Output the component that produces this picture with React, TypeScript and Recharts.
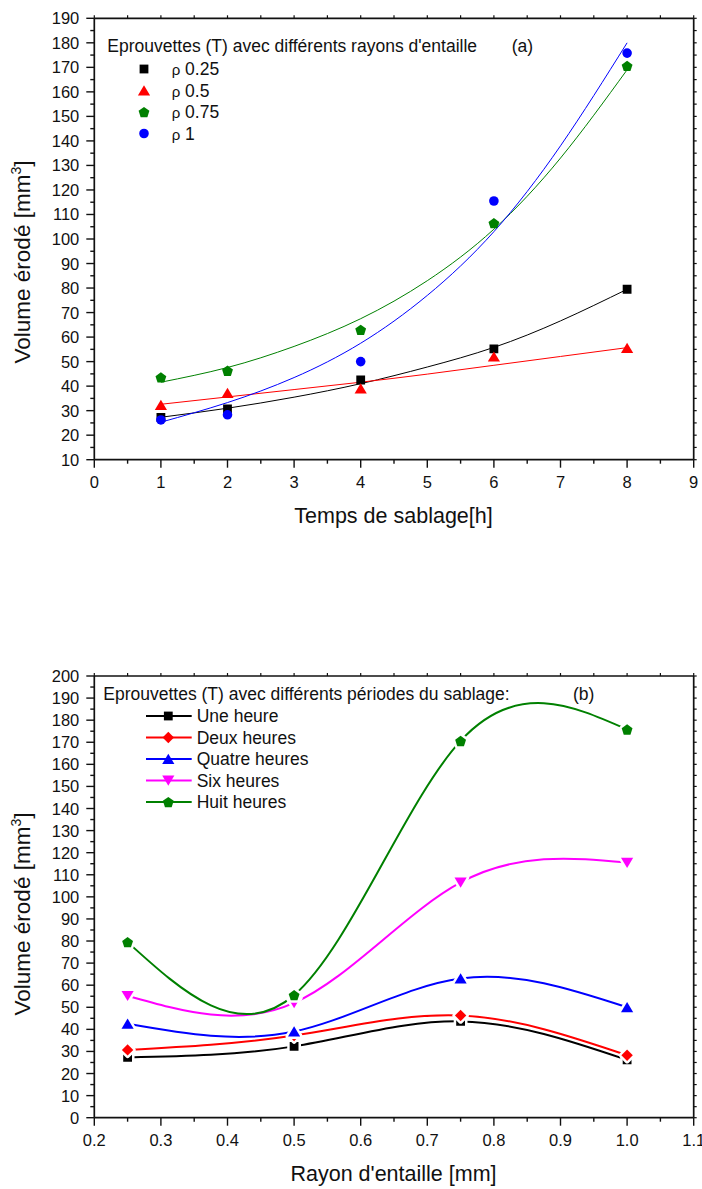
import { ComposedChart, LineChart, Line, Scatter, XAxis, YAxis } from 'recharts'

const FONT = '"Liberation Sans", Arial, Helvetica, sans-serif'
const INK = '#111'

// (a) measured erosion volume per blasting time, one array per notch radius
const hours = [1, 2, 4, 6, 8]
const rho025 = [27.3, 30.7, 42.5, 55.2, 79.5]
const rho05 = [32.3, 37.2, 39.0, 52.0, 55.5]
const rho075 = [43.6, 46.3, 63.0, 106.5, 170.6]
const rho1 = [26.2, 28.3, 50.0, 115.5, 175.8]

// (a) fitted curves
const fitHours = [1, 2, 3, 4, 5, 6, 7, 8]
const fit025 = [27.3, 31.0, 35.5, 41.0, 47.8, 55.8, 66.6, 79.5]
const fit05 = [32.6, 35.6, 38.6, 41.6, 44.9, 48.5, 52.1, 55.7]
const fit075 = [41.6, 47.6, 56.2, 67.5, 83.0, 104.0, 133.0, 169.0]
const fit1 = [25.3, 33.3, 43.5, 57.5, 77.0, 103.0, 138.0, 180.0]

// (b) same measurements, grouped by blasting period
const radii = [0.25, 0.5, 0.75, 1.0]
const periods = ['Une heure', 'Deux heures', 'Quatre heures', 'Six heures', 'Huit heures']

const hourTicks = [0, 1, 2, 3, 4, 5, 6, 7, 8, 9]
const hourMinor = [0.5, 1.5, 2.5, 3.5, 4.5, 5.5, 6.5, 7.5, 8.5]
const volTicksA = [10, 20, 30, 40, 50, 60, 70, 80, 90, 100, 110, 120, 130, 140, 150, 160, 170, 180, 190]
const volMinorA = [15, 25, 35, 45, 55, 65, 75, 85, 95, 105, 115, 125, 135, 145, 155, 165, 175, 185]
const radiusTicks = [0.2, 0.3, 0.4, 0.5, 0.6, 0.7, 0.8, 0.9, 1.0, 1.1]
const radiusMinor = [0.25, 0.35, 0.45, 0.55, 0.65, 0.75, 0.85, 0.95, 1.05]
const volTicksB = [0, 10, 20, 30, 40, 50, 60, 70, 80, 90, 100, 110, 120, 130, 140, 150, 160, 170, 180, 190, 200]
const volMinorB = [5, 15, 25, 35, 45, 55, 65, 75, 85, 95, 105, 115, 125, 135, 145, 155, 165, 175, 185, 195]

type Kind = 'square' | 'circle' | 'triangle' | 'down' | 'diamond' | 'pentagon'

const rhoSeries = [
  { label: '0.25', pts: rho025, fit: fit025, color: '#000000', kind: 'square' as Kind },
  { label: '0.5', pts: rho05, fit: fit05, color: '#ff0000', kind: 'triangle' as Kind },
  { label: '0.75', pts: rho075, fit: fit075, color: '#008000', kind: 'pentagon' as Kind },
  { label: '1', pts: rho1, fit: fit1, color: '#0000ff', kind: 'circle' as Kind },
]

const periodStyles = [
  { color: '#000000', kind: 'square' as Kind },
  { color: '#ff0000', kind: 'diamond' as Kind },
  { color: '#0000ff', kind: 'triangle' as Kind },
  { color: '#ff00ff', kind: 'down' as Kind },
  { color: '#008000', kind: 'pentagon' as Kind },
]

const rowsB = radii.map((r, i) => {
  const row: Record<string, number> = { r }
  periods.forEach((_, j) => {
    row['p' + j] = rhoSeries[i].pts[j]
  })
  return row
})

function markerPath(kind: Kind, cx: number, cy: number) {
  switch (kind) {
    case 'square': {
      const h = 4.4
      return `M${cx - h},${cy - h}H${cx + h}V${cy + h}H${cx - h}Z`
    }
    case 'circle': {
      const r = 4.8
      return `M${cx - r},${cy}a${r},${r} 0 1,0 ${2 * r},0a${r},${r} 0 1,0 ${-2 * r},0Z`
    }
    case 'triangle':
      return `M${cx},${cy - 5.3}L${cx + 6.1},${cy + 4.9}L${cx - 6.1},${cy + 4.9}Z`
    case 'down':
      return `M${cx},${cy + 5.3}L${cx + 6.1},${cy - 4.9}L${cx - 6.1},${cy - 4.9}Z`
    case 'diamond':
      return `M${cx},${cy - 5.7}L${cx + 5.7},${cy}L${cx},${cy + 5.7}L${cx - 5.7},${cy}Z`
    case 'pentagon': {
      const r = 5.7
      const pts = [0, 1, 2, 3, 4].map((k) => {
        const a = (-90 + 72 * k) * (Math.PI / 180)
        return `${cx + r * Math.cos(a)},${cy + 0.6 + r * Math.sin(a)}`
      })
      return 'M' + pts.join('L') + 'Z'
    }
  }
}

function Marker({ kind, cx, cy, color, halo }: { kind: Kind; cx: number; cy: number; color: string; halo?: boolean }) {
  if (cx == null || cy == null) return null
  const d = markerPath(kind, cx, cy)
  return (
    <g>
      {halo && <path d={d} fill="#fff" stroke="#fff" strokeWidth={5} strokeLinejoin="round" />}
      <path d={d} fill={color} />
    </g>
  )
}

const near = (list: number[], v: number) => list.some((m) => Math.abs(m - v) < 1e-6)

function makeTick(side: 'bottom' | 'left' | 'top' | 'right', majors: number[], fmt: (v: number) => string) {
  return (props: any) => {
    const { x, y, payload } = props
    const v = payload.value
    const major = near(majors, v)
    const txt = { fontFamily: FONT, fontSize: 16.5, fill: INK }
    if (side === 'bottom') {
      const len = major ? 8 : 4
      return (
        <g>
          <line x1={x} y1={y} x2={x} y2={y + len} stroke={INK} strokeWidth={1.4} />
          {major && <text x={x} y={y + 28} textAnchor="middle" style={txt}>{fmt(v)}</text>}
        </g>
      )
    }
    if (side === 'left') {
      const len = major ? 8 : 4
      return (
        <g>
          <line x1={x - len} y1={y} x2={x} y2={y} stroke={INK} strokeWidth={1.4} />
          {major && <text x={x - 15} y={y + 6} textAnchor="end" style={txt}>{fmt(v)}</text>}
        </g>
      )
    }
    if (side === 'top') {
      return <line x1={x} y1={y - 3} x2={x} y2={y} stroke={INK} strokeWidth={1.2} />
    }
    return <line x1={x} y1={y} x2={x + 3} y2={y} stroke={INK} strokeWidth={1.2} />
  }
}

const axisLine = { stroke: INK, strokeWidth: 1.7 }
const intFmt = (v: number) => String(v)
const decFmt = (v: number) => v.toFixed(1)

function ChartA() {
  const xAll = [...hourTicks, ...hourMinor].sort((a, b) => a - b)
  const yAll = [...volTicksA, ...volMinorA].sort((a, b) => a - b)
  return (
    <ComposedChart width={702} height={545} margin={{ top: 8.3, right: 0, bottom: 0, left: 0 }}>
      <XAxis xAxisId="b" type="number" dataKey="x" domain={[0, 9]} allowDataOverflow ticks={xAll} interval={0}
        tickSize={0} tickMargin={0} tickLine={false} axisLine={axisLine} height={85.3}
        tick={makeTick('bottom', hourTicks, intFmt)} />
      <XAxis xAxisId="t" orientation="top" type="number" dataKey="x" domain={[0, 9]} allowDataOverflow ticks={xAll}
        interval={0} tickSize={0} tickMargin={0} tickLine={false} axisLine={axisLine} height={10}
        tick={makeTick('top', hourTicks, intFmt)} />
      <YAxis yAxisId="l" type="number" dataKey="y" domain={[10, 190]} allowDataOverflow ticks={yAll} interval={0}
        tickSize={0} tickMargin={0} tickLine={false} axisLine={axisLine} width={94.3}
        tick={makeTick('left', volTicksA, intFmt)} />
      <YAxis yAxisId="r" orientation="right" type="number" domain={[10, 190]} allowDataOverflow ticks={yAll}
        interval={0} tickSize={0} tickMargin={0} tickLine={false} axisLine={axisLine} width={8.3}
        tick={makeTick('right', volTicksA, intFmt)} />
      {rhoSeries.map((s) => (
        <Line key={'fit' + s.label} xAxisId="b" yAxisId="l" data={fitHours.map((x, i) => ({ x, y: s.fit[i] }))}
          dataKey="y" type="natural" stroke={s.color} strokeWidth={1} dot={false} activeDot={false}
          isAnimationActive={false} />
      ))}
      {rhoSeries.map((s) => (
        <Scatter key={'pts' + s.label} xAxisId="b" yAxisId="l" data={hours.map((x, i) => ({ x, y: s.pts[i] }))}
          dataKey="y" isAnimationActive={false}
          shape={(p: any) => <Marker kind={s.kind} cx={p.cx} cy={p.cy} color={s.color} />} />
      ))}
    </ComposedChart>
  )
}

function ChartB() {
  const xAll = [...radiusTicks, ...radiusMinor].sort((a, b) => a - b)
  const yAll = [...volTicksB, ...volMinorB].sort((a, b) => a - b)
  return (
    <LineChart width={702} height={629} data={rowsB} margin={{ top: 106, right: 0, bottom: 0, left: 0 }}>
      <XAxis xAxisId="b" type="number" dataKey="r" domain={[0.2, 1.1]} allowDataOverflow ticks={xAll} interval={0}
        tickSize={0} tickMargin={0} tickLine={false} axisLine={axisLine} height={71.3}
        tick={makeTick('bottom', radiusTicks, decFmt)} />
      <XAxis xAxisId="t" orientation="top" type="number" dataKey="r" domain={[0.2, 1.1]} allowDataOverflow
        ticks={xAll} interval={0} tickSize={0} tickMargin={0} tickLine={false} axisLine={axisLine} height={10}
        tick={makeTick('top', radiusTicks, decFmt)} />
      <YAxis yAxisId="l" type="number" domain={[0, 200]} allowDataOverflow ticks={yAll} interval={0}
        tickSize={0} tickMargin={0} tickLine={false} axisLine={axisLine} width={94.3}
        tick={makeTick('left', volTicksB, intFmt)} />
      <YAxis yAxisId="r" orientation="right" type="number" domain={[0, 200]} allowDataOverflow ticks={yAll}
        interval={0} tickSize={0} tickMargin={0} tickLine={false} axisLine={axisLine} width={8.3}
        tick={makeTick('right', volTicksB, intFmt)} />
      {periods.map((name, j) => {
        const st = periodStyles[j]
        return (
          <Line key={name} name={name} xAxisId="b" yAxisId="l" dataKey={'p' + j} type="natural" stroke={st.color}
            strokeWidth={2} activeDot={false} isAnimationActive={false}
            dot={(p: any) => <Marker key={p.index} kind={st.kind} cx={p.cx} cy={p.cy} color={st.color} halo />} />
        )
      })}
    </LineChart>
  )
}

function Overlay() {
  const t = { fontFamily: FONT, fill: INK }
  const rowsA = [69, 90.5, 112, 133.5]
  const rowsLegB = [716, 737.5, 759, 780.5, 802]
  return (
    <svg width={702} height={1189} style={{ position: 'absolute', left: 0, top: 0, pointerEvents: 'none' }}>
      {/* (a) */}
      <text x={107.3} y={52.3} style={{ ...t, fontSize: 17.5 }}>Eprouvettes (T) avec différents rayons d'entaille</text>
      <text x={511.7} y={52.3} style={{ ...t, fontSize: 17.5 }}>(a)</text>
      {rhoSeries.map((s, i) => (
        <g key={s.label}>
          <Marker kind={s.kind} cx={144} cy={rowsA[i]} color={s.color} />
          <text x={171.7} y={rowsA[i] + 6} style={{ ...t, fontSize: 17.5 }}>
            <tspan style={{ fontSize: 15 }}>ρ</tspan> {s.label}
          </text>
        </g>
      ))}
      <text x={393.5} y={523} textAnchor="middle" style={{ ...t, fontSize: 21.5 }}>Temps de sablage[h]</text>
      <text transform="translate(30,262) rotate(-90)" textAnchor="middle" style={{ ...t, fontSize: 22.5 }}>
        Volume érodé [mm<tspan dy={-9} style={{ fontSize: 14 }}>3</tspan><tspan dy={9}>]</tspan>
      </text>

      {/* (b) */}
      <text x={103.3} y={700} style={{ ...t, fontSize: 17.5 }}>Eprouvettes (T) avec différents périodes du sablage:</text>
      <text x={573} y={700} style={{ ...t, fontSize: 17.5 }}>(b)</text>
      {periods.map((name, j) => {
        const st = periodStyles[j]
        const y = rowsLegB[j]
        return (
          <g key={name}>
            <line x1={146} y1={y} x2={191.7} y2={y} stroke={st.color} strokeWidth={2} />
            <Marker kind={st.kind} cx={168.3} cy={y} color={st.color} />
            <text x={196.7} y={y + 6} style={{ ...t, fontSize: 17.5 }}>{name}</text>
          </g>
        )
      })}
      <text x={393.5} y={1180.5} textAnchor="middle" style={{ ...t, fontSize: 21.5 }}>Rayon d'entaille [mm]</text>
      <text transform="translate(30,914) rotate(-90)" textAnchor="middle" style={{ ...t, fontSize: 22.5 }}>
        Volume érodé [mm<tspan dy={-9} style={{ fontSize: 14 }}>3</tspan><tspan dy={9}>]</tspan>
      </text>
    </svg>
  )
}

export default function App() {
  return (
    <div style={{ position: 'absolute', left: 0, top: 0, width: 702, height: 1189, background: '#fff' }}>
      <div style={{ position: 'absolute', left: 0, top: 0 }}>
        <ChartA />
      </div>
      <div style={{ position: 'absolute', left: 0, top: 560 }}>
        <ChartB />
      </div>
      <Overlay />
    </div>
  )
}
